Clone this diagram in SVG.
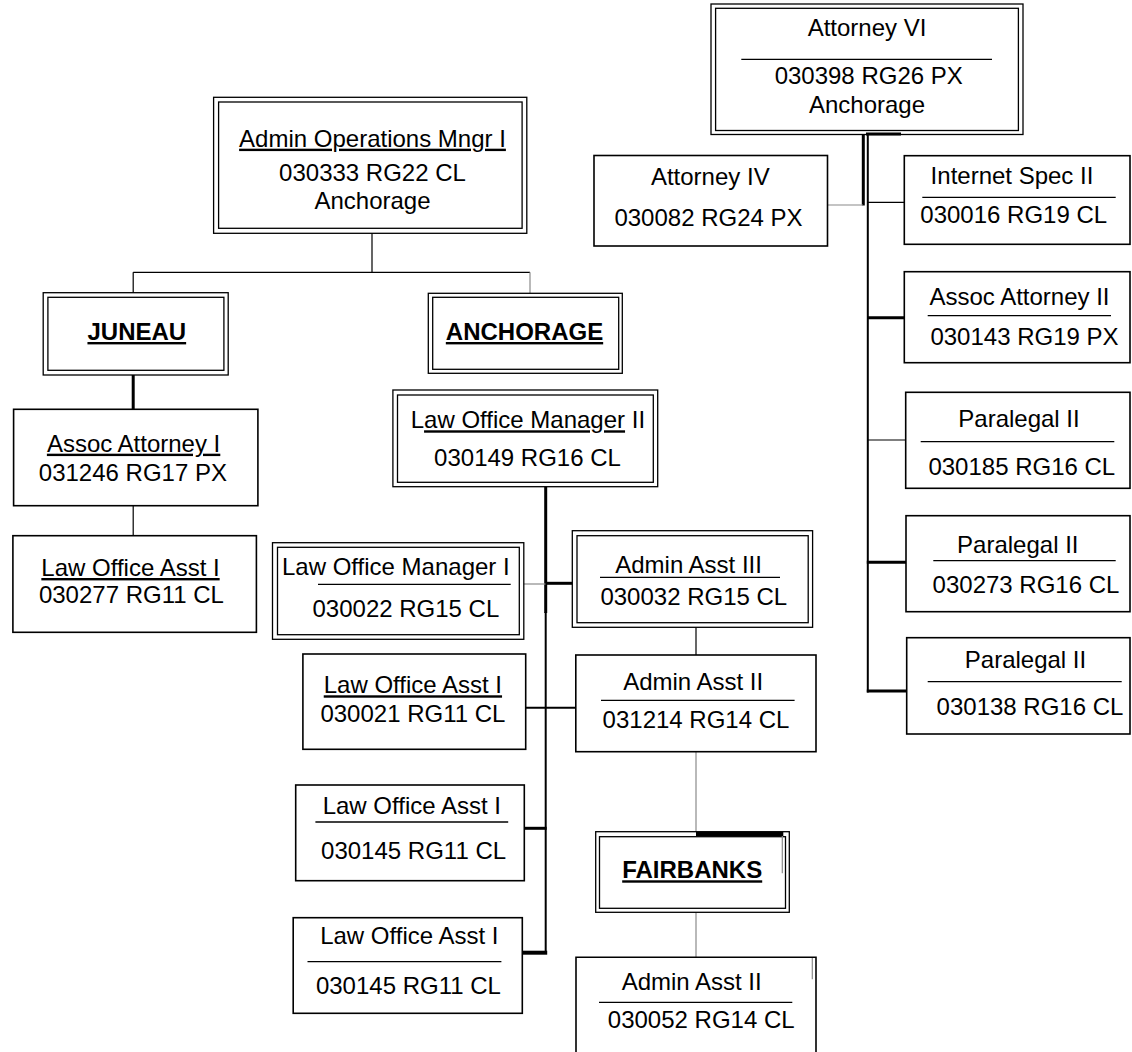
<svg xmlns="http://www.w3.org/2000/svg" width="1132" height="1052" viewBox="0 0 1132 1052">
<style>
  text { font-family: "Liberation Sans", Arial, sans-serif; font-size: 24px; fill: #000; }
  .c { text-anchor: middle; }
  .b { font-weight: bold; }
  .u { text-decoration: underline; }
  .box { fill: #fff; stroke: #000; stroke-width: 1.6; }
  .dbl { fill: none; stroke: #000; stroke-width: 1.3; }
  .sep { stroke: #000; stroke-width: 1.3; fill: none; }
  .thin { stroke: #000; stroke-width: 1.2; fill: none; }
  .grey { stroke: #8a8a8a; stroke-width: 1.2; fill: none; }
  .med { stroke: #000; stroke-width: 2; fill: none; }
  .thick { stroke: #000; stroke-width: 3; fill: none; }
  .vthick { stroke: #000; stroke-width: 4; fill: none; }
</style>
<rect width="1132" height="1052" fill="#fff"/>

<g id="connectors">
  <!-- Admin Ops -->
  <path class="thin" d="M372,233.3 V272.3 M133.2,272.3 H530 M133.2,272.3 V292.7"/>
  <path class="grey" d="M530,272.3 V293"/>
  <!-- Juneau -->
  <path class="thick" d="M133.2,375 V409.3"/>
  <path class="thin" d="M133.2,505.7 V535.7"/>
  <!-- Anchorage trunk -->
  <path class="thick" d="M545.7,486.7 V613"/>
  <path class="med" d="M545.7,612 V953"/>
  <path class="grey" d="M523.8,584 H545.7"/>
  <path class="thick" d="M545.7,583.3 H572.3"/>
  <path class="med" d="M525.7,707.7 H575.8"/>
  <path class="thick" d="M524.3,828.3 H546.7"/>
  <path class="vthick" d="M522.3,952.7 H547.2"/>
  <path class="thin" d="M696,627.3 V655"/>
  <path class="grey" d="M696,751.7 V831.7"/>
  <path class="grey" d="M696,912.3 V957.3"/>
  <!-- Attorney VI trunk -->
  <path class="thick" d="M866,134 H901"/>
  <path class="thick" d="M863.3,134 V205.5"/>
  <path class="med" d="M867.8,134 V692.5"/>
  <path class="grey" d="M827.5,205 H863"/>
  <path class="thin" d="M867.8,202.3 H904.3"/>
  <path class="thick" d="M867.8,317.7 H904.3"/>
  <path class="thin" d="M867.8,440 H907"/>
  <path class="thick" d="M866.8,562.3 H906"/>
  <path class="thick" d="M866.8,691 H907.5"/>
</g>

<g id="admin-ops">
  <rect class="dbl" x="213.6" y="97.3" width="313.2" height="136"/>
  <rect class="dbl" x="218.6" y="102" width="303.5" height="126.3"/>
  <text class="c u" x="372.5" y="146.7">Admin Operations Mngr I</text>
  <text class="c" x="372.5" y="180.7">030333 RG22 CL</text>
  <text class="c" x="372.5" y="209.3">Anchorage</text>
</g>

<g id="attorney-vi">
  <rect class="dbl" x="711" y="4" width="312" height="130.5"/>
  <rect class="dbl" x="715.6" y="8.3" width="302.8" height="122.2"/>
  <text class="c" x="867" y="36">Attorney VI</text>
  <path class="sep" d="M741.3,59.3 H992"/>
  <text class="c" x="868.7" y="84">030398 RG26 PX</text>
  <text class="c" x="867" y="112.7">Anchorage</text>
</g>

<g id="attorney-iv">
  <rect class="box" x="594" y="155.5" width="233.5" height="90.5"/>
  <text class="c" x="710.3" y="185">Attorney IV</text>
  <text class="c" x="708.5" y="226">030082 RG24 PX</text>
</g>

<g id="internet-spec-ii">
  <rect class="box" x="904.3" y="155.7" width="225.7" height="88.6"/>
  <text class="c" x="1012" y="184">Internet Spec II</text>
  <path class="sep" d="M922.3,197.3 H1115.7"/>
  <text class="c" x="1013.7" y="223.3">030016 RG19 CL</text>
</g>

<g id="assoc-attorney-ii">
  <rect class="box" x="904.3" y="271.7" width="225.7" height="91"/>
  <text class="c" x="1019.5" y="305">Assoc Attorney II</text>
  <path class="sep" d="M927.7,315.7 H1111"/>
  <text class="c" x="1024.5" y="345">030143 RG19 PX</text>
</g>

<g id="paralegal-030185">
  <rect class="box" x="905.7" y="392.3" width="224.3" height="96"/>
  <text class="c" x="1019" y="426.7">Paralegal II</text>
  <path class="sep" d="M920.7,441.7 H1114.3"/>
  <text class="c" x="1021.8" y="475">030185 RG16 CL</text>
</g>

<g id="paralegal-030273">
  <rect class="box" x="906" y="515.7" width="224" height="96"/>
  <text class="c" x="1017.8" y="552.7">Paralegal II</text>
  <path class="sep" d="M933.3,560.7 H1115.7"/>
  <text class="c" x="1026" y="592.7">030273 RG16 CL</text>
</g>

<g id="paralegal-030138">
  <rect class="box" x="906.7" y="637.7" width="223.3" height="96.3"/>
  <text class="c" x="1025.5" y="668.3">Paralegal II</text>
  <path class="sep" d="M927.7,681.7 H1121.7"/>
  <text class="c" x="1030" y="715">030138 RG16 CL</text>
</g>

<g id="juneau">
  <rect class="dbl" x="43.2" y="292.7" width="185" height="82.3"/>
  <rect class="dbl" x="47.9" y="297.3" width="176" height="73"/>
  <text class="c b u" x="136.8" y="340">JUNEAU</text>
</g>

<g id="anchorage">
  <rect class="dbl" x="428.3" y="293.3" width="194" height="80"/>
  <rect class="dbl" x="432.7" y="297.3" width="186" height="72"/>
  <text class="c b u" x="524.5" y="340">ANCHORAGE</text>
</g>

<g id="assoc-attorney-i">
  <rect class="box" x="13.6" y="409.3" width="244.3" height="96.4"/>
  <text class="c u" x="133.6" y="451.7">Assoc Attorney I</text>
  <text class="c" x="132.9" y="480.7">031246 RG17 PX</text>
</g>

<g id="law-office-asst-030277">
  <rect class="box" x="12.9" y="535.7" width="243.5" height="96.6"/>
  <text class="c u" x="130.5" y="576">Law Office Asst I</text>
  <text class="c" x="131.4" y="602.7">030277 RG11 CL</text>
</g>

<g id="law-office-manager-ii">
  <rect class="dbl" x="392.9" y="390" width="264.8" height="96.7"/>
  <rect class="dbl" x="397.5" y="395" width="255.8" height="87.3"/>
  <text x="410.7" y="428.3">L<tspan class="u">aw Office Manager</tspan> II</text>
  <text class="c" x="527.5" y="465.7">030149 RG16 CL</text>
</g>

<g id="law-office-manager-i">
  <rect class="dbl" x="272.5" y="542.7" width="251.3" height="96.6"/>
  <rect class="dbl" x="277.5" y="547.3" width="241.8" height="87.4"/>
  <text x="282" y="575">Law Office Manager I</text>
  <path class="sep" d="M318,584.3 H510.7"/>
  <text class="c" x="405.9" y="617.3">030022 RG15 CL</text>
</g>

<g id="admin-asst-iii">
  <rect class="dbl" x="572.3" y="530.7" width="240.3" height="96.6"/>
  <rect class="dbl" x="577" y="535.7" width="231.2" height="87"/>
  <text class="c" x="688.6" y="572.7">Admin Asst III</text>
  <path class="sep" d="M600,577.3 H780"/>
  <text class="c" x="693.8" y="605">030032 RG15 CL</text>
</g>

<g id="admin-asst-ii-031214">
  <rect class="box" x="575.8" y="655" width="240.2" height="96.7"/>
  <text class="c" x="693.2" y="690">Admin Asst II</text>
  <path class="sep" d="M601,700.3 H794.6"/>
  <text class="c" x="696" y="728.3">031214 RG14 CL</text>
</g>

<g id="law-office-asst-030021">
  <rect class="box" x="302.9" y="654" width="222.8" height="95.3"/>
  <text class="c u" x="412.9" y="693.3">Law Office Asst I</text>
  <text class="c" x="412.9" y="721.7">030021 RG11 CL</text>
</g>

<g id="law-office-asst-030145-a">
  <rect class="box" x="295.7" y="785" width="228.6" height="95.7"/>
  <text class="c" x="411.8" y="814">Law Office Asst I</text>
  <path class="sep" d="M315.4,822 H508.2"/>
  <text class="c" x="413.6" y="859.3">030145 RG11 CL</text>
</g>

<g id="law-office-asst-030145-b">
  <rect class="box" x="293.2" y="917.7" width="229.1" height="95.6"/>
  <text class="c" x="409.3" y="944">Law Office Asst I</text>
  <path class="sep" d="M307.5,961.7 H501.4"/>
  <text class="c" x="408.4" y="994">030145 RG11 CL</text>
</g>

<g id="fairbanks">
  <rect class="dbl" x="595.7" y="831.7" width="193.6" height="80.6"/>
  <rect class="dbl" x="599.5" y="836.7" width="186" height="71.6"/>
  <path class="vthick" d="M696,834 H783.3"/>
  <path class="grey" d="M782.3,836 V873.3"/>
  <text class="c b u" x="692.2" y="878.3">FAIRBANKS</text>
</g>

<g id="admin-asst-ii-030052">
  <path class="box" d="M576,1053 V957.3 H816 V1053"/>
  <path class="grey" d="M812.3,958 V979.3"/>
  <text class="c" x="691.7" y="990">Admin Asst II</text>
  <path class="sep" d="M599,1002.3 H792.3"/>
  <text class="c" x="701.2" y="1028.3">030052 RG14 CL</text>
</g>
</svg>
